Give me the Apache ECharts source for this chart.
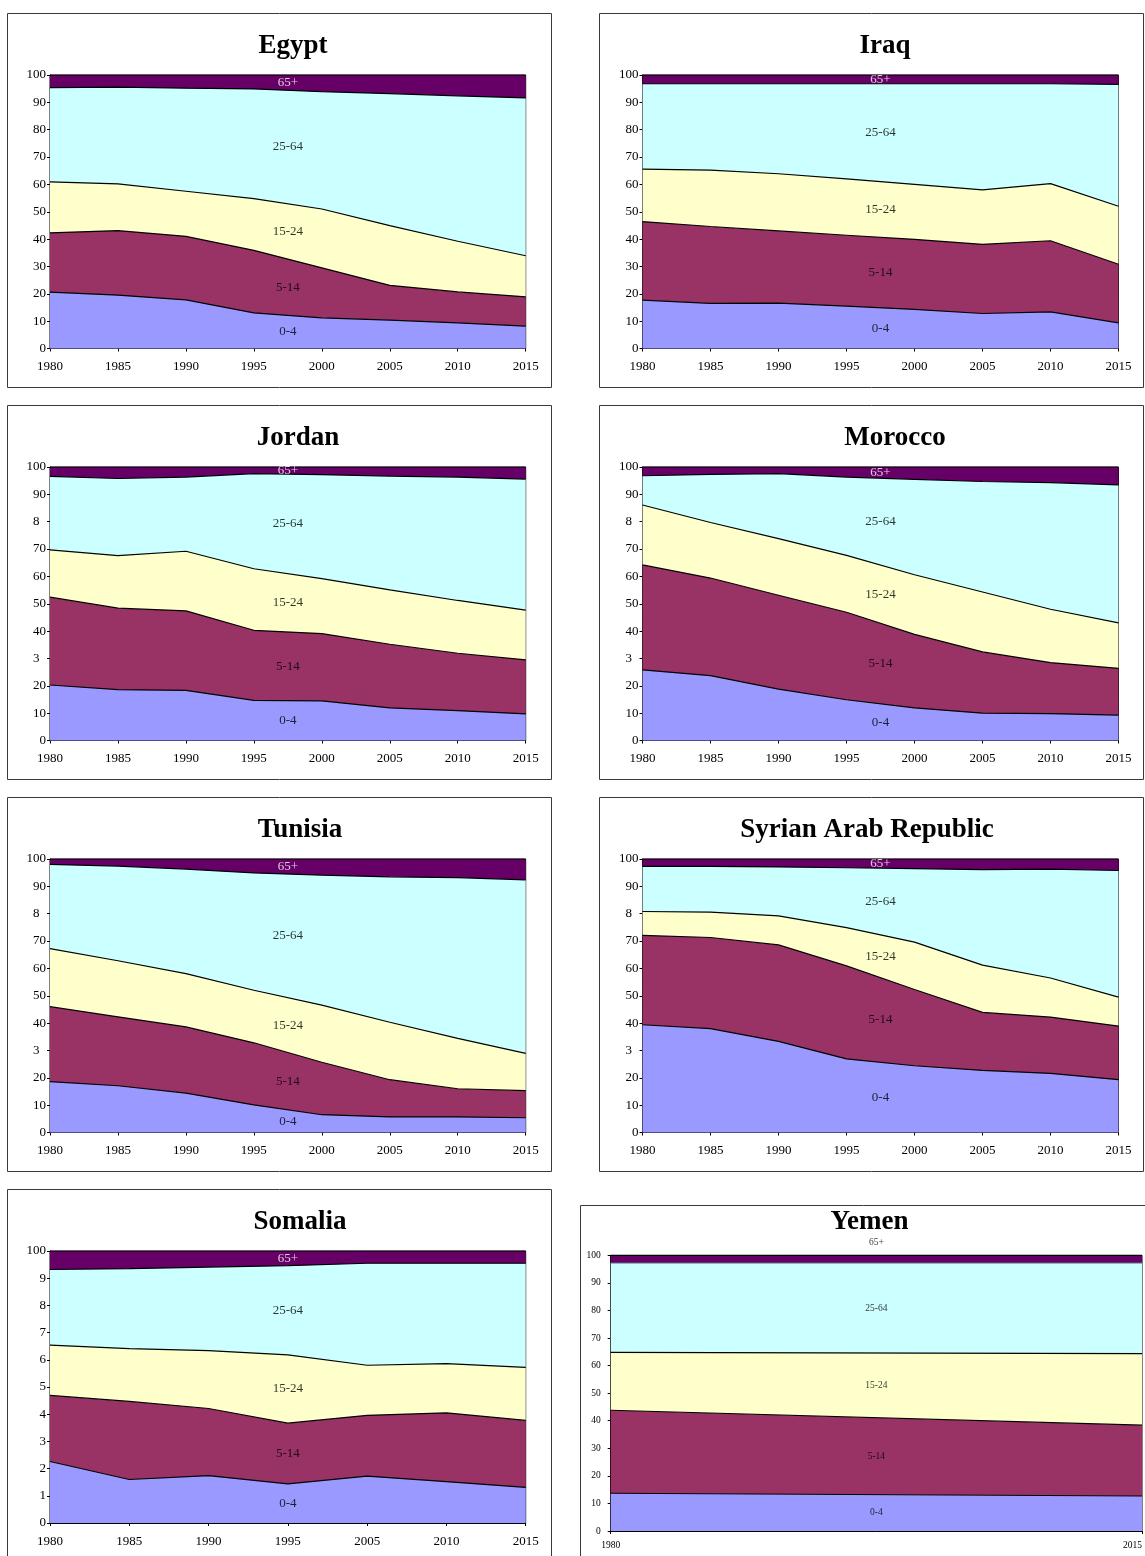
<!DOCTYPE html>
<html><head><meta charset="utf-8">
<script src="https://cdn.jsdelivr.net/npm/echarts/dist/echarts.min.js"></script>
<style>html,body{margin:0;padding:0;background:#fff}#c{width:1145px;height:1556px}</style>
</head><body><div id="c"></div>
<script>
// ---------- categories & tick labels ----------
const years = ['1980','1985','1990','1995','2000','2005','2010','2015'];
const yearsSomalia = ['1980','1985','1990','1995','2005','2010','2015'];
const yearsYemen = ['1980','2015'];
const ageGroups = ['0-4','5-14','15-24','25-64','65+'];
const yTicks = ['0','10','20','30','40','50','60','70','80','90','100'];
const yTicksCut = ['0','10','20','3','40','50','60','70','8','90','100'];
const yTicksSomalia = ['0','1','2','3','4','5','6','7','8','9','100'];

// ---------- data (% share of population by age group) ----------
const egypt_0_4   = [20.6, 19.5, 17.8, 13.0, 11.2, 10.4, 9.4, 8.2];
const egypt_5_14  = [21.7, 23.6, 23.2, 22.9, 18.3, 12.7, 11.3, 10.7];
const egypt_15_24 = [18.6, 17.1, 16.5, 18.9, 21.5, 21.8, 18.5, 15.0];
const egypt_25_64 = [34.5, 35.4, 37.7, 40.1, 42.9, 48.3, 53.2, 57.7];
const egypt_65    = [4.6, 4.4, 4.8, 5.1, 6.1, 6.8, 7.6, 8.4];

const iraq_0_4   = [17.7, 16.5, 16.6, 15.5, 14.3, 12.8, 13.4, 9.4];
const iraq_5_14  = [28.7, 28.1, 26.4, 25.9, 25.6, 25.3, 26.0, 21.4];
const iraq_15_24 = [19.2, 20.6, 20.9, 20.6, 20.1, 19.9, 20.9, 21.2];
const iraq_25_64 = [31.2, 31.6, 32.9, 34.8, 36.8, 38.8, 36.5, 44.6];
const iraq_65    = [3.2, 3.2, 3.2, 3.2, 3.2, 3.2, 3.2, 3.4];

const jordan_0_4   = [20.3, 18.6, 18.3, 14.7, 14.5, 11.9, 10.9, 9.7];
const jordan_5_14  = [32.1, 29.8, 29.1, 25.6, 24.6, 23.3, 21.0, 19.8];
const jordan_15_24 = [17.3, 19.2, 21.8, 22.5, 20.1, 19.9, 19.3, 18.2];
const jordan_25_64 = [26.9, 28.2, 27.1, 34.8, 38.0, 41.6, 45.1, 47.9];
const jordan_65    = [3.4, 4.2, 3.7, 2.4, 2.8, 3.3, 3.7, 4.4];

const morocco_0_4   = [25.8, 23.7, 18.8, 14.9, 11.9, 10.0, 9.8, 9.3];
const morocco_5_14  = [38.4, 35.7, 34.3, 32.0, 26.9, 22.4, 18.7, 17.1];
const morocco_15_24 = [21.9, 20.3, 20.7, 20.8, 21.8, 21.9, 19.5, 16.6];
const morocco_25_64 = [10.7, 17.6, 23.8, 28.6, 34.9, 40.4, 46.3, 50.5];
const morocco_65    = [3.2, 2.7, 2.4, 3.7, 4.5, 5.3, 5.7, 6.5];

const tunisia_0_4   = [18.6, 17.1, 14.4, 10.1, 6.5, 5.7, 5.7, 5.4];
const tunisia_5_14  = [27.4, 25.2, 24.2, 22.7, 19.2, 13.6, 10.3, 9.9];
const tunisia_15_24 = [21.2, 20.5, 19.5, 19.2, 20.9, 21.0, 18.4, 13.6];
const tunisia_25_64 = [30.8, 34.6, 38.2, 42.9, 47.5, 53.2, 58.8, 63.5];
const tunisia_65    = [2.0, 2.6, 3.7, 5.1, 5.9, 6.5, 6.8, 7.6];

const syria_0_4   = [39.4, 38.0, 33.3, 26.9, 24.4, 22.7, 21.6, 19.3];
const syria_5_14  = [32.7, 33.3, 35.3, 34.0, 27.9, 21.2, 20.6, 19.6];
const syria_15_24 = [8.7, 9.3, 10.6, 14.0, 17.3, 17.3, 14.3, 10.6];
const syria_25_64 = [16.5, 16.7, 17.9, 21.9, 26.9, 34.9, 39.8, 46.3];
const syria_65    = [2.7, 2.7, 2.9, 3.2, 3.5, 3.9, 3.7, 4.2];

const somalia_0_4   = [22.6, 16.0, 17.4, 14.4, 17.2, 15.2, 13.1];
const somalia_5_14  = [24.3, 28.7, 24.7, 22.3, 22.4, 25.3, 24.6];
const somalia_15_24 = [18.5, 19.4, 21.3, 25.1, 18.4, 18.1, 19.5];
const somalia_25_64 = [27.8, 29.4, 30.7, 32.8, 37.5, 36.9, 38.3];
const somalia_65    = [6.8, 6.5, 5.9, 5.4, 4.5, 4.5, 4.5];

const yemen_0_4   = [13.7, 12.7];
const yemen_5_14  = [30.1, 25.7];
const yemen_15_24 = [21.0, 25.9];
const yemen_25_64 = [32.3, 32.8];
const yemen_65    = [2.9, 2.9];

// ---------- layout / styles ----------
const colors = ['#9999FF', '#993366', '#FFFFCC', '#CCFFFF', '#660066'];
const FONT = '"Liberation Serif", "Times New Roman", serif';

const panels = [
  {title:'Egypt', cats:years, data:[egypt_0_4,egypt_5_14,egypt_15_24,egypt_25_64,egypt_65], ticks:yTicks, pad:false,
   box:[7.5,13.5,544,374], grid:[50,75,475.7,273.5], tpos:[293,46]},
  {title:'Iraq', cats:years, data:[iraq_0_4,iraq_5_14,iraq_15_24,iraq_25_64,iraq_65], ticks:yTicks, pad:false,
   box:[599.5,13.5,544,374], grid:[642.5,75,476,273.5], tpos:[885,46]},
  {title:'Jordan', cats:years, data:[jordan_0_4,jordan_5_14,jordan_15_24,jordan_25_64,jordan_65], ticks:yTicksCut, pad:true,
   box:[7.5,405.5,544,374], grid:[50,467,475.7,273.5], tpos:[298,438]},
  {title:'Morocco', cats:years, data:[morocco_0_4,morocco_5_14,morocco_15_24,morocco_25_64,morocco_65], ticks:yTicksCut, pad:true,
   box:[599.5,405.5,544,374], grid:[642.5,467,476,273.5], tpos:[895,438]},
  {title:'Tunisia', cats:years, data:[tunisia_0_4,tunisia_5_14,tunisia_15_24,tunisia_25_64,tunisia_65], ticks:yTicksCut, pad:true,
   box:[7.5,797.5,544,374], grid:[50,859,475.7,273.5], tpos:[300,830]},
  {title:'Syrian Arab Republic', cats:years, data:[syria_0_4,syria_5_14,syria_15_24,syria_25_64,syria_65], ticks:yTicksCut, pad:true,
   box:[599.5,797.5,544,374], grid:[642.5,859,476,273.5], tpos:[867,830]},
  {title:'Somalia', cats:yearsSomalia, data:[somalia_0_4,somalia_5_14,somalia_15_24,somalia_25_64,somalia_65], ticks:yTicksSomalia, pad:false,
   box:[7.5,1189.5,544,374], grid:[50,1251,475.7,272], tpos:[300,1222]},
  {title:'Yemen', cats:yearsYemen, data:[yemen_0_4,yemen_5_14,yemen_15_24,yemen_25_64,yemen_65], ticks:yTicks, pad:false,
   box:[580.5,1205.5,600,400], grid:[610.7,1255.3,531.3,275.7], tpos:[869.5,1222.5], small:true}
];

const grids = [], xAxes = [], yAxes = [], series = [], graphics = [];

panels.forEach((p, i) => {
  const fs = p.small ? 9.5 : 13;
  graphics.push({type:'rect', shape:{x:p.box[0], y:p.box[1], width:p.box[2], height:p.box[3]},
    style:{fill:'none', stroke:'#3a3a3a', lineWidth:1}, z:0, silent:true});
  graphics.push({type:'text', x:p.tpos[0], y:p.tpos[1],
    style:{text:p.title, font:'bold 27px ' + FONT, fill:'#000', textAlign:'center', textVerticalAlign:'middle'}, z:10});

  grids.push({left:p.grid[0], top:p.grid[1], width:p.grid[2], height:p.grid[3],
    show:true, borderColor:'#000', borderWidth:1, backgroundColor:'transparent'});

  xAxes.push({type:'category', gridIndex:i, data:p.cats, boundaryGap:false,
    axisLine:{show:true, lineStyle:{color:'#000', width:1}},
    axisTick:{show:true, length:3, interval: p.small ? (idx => idx === 0 || idx === p.cats.length-1) : 0, lineStyle:{color:'#000'}},
    axisLabel:{interval:0, color:'#000', fontFamily:FONT, fontSize:fs, margin: p.small ? 9 : 12,
      alignMaxLabel: p.small ? 'right' : null},
    splitLine:{show:false}});
  xAxes.push({type:'value', gridIndex:i, min:0, max:1, show:false});

  yAxes.push({type:'value', gridIndex:i, min:0, max:100, interval:10,
    axisLine:{show:true, lineStyle:{color:'#000', width:1}},
    axisTick:{show:true, length:3, lineStyle:{color:'#000'}},
    splitLine:{show:false},
    axisLabel:{color:'#000', fontFamily:FONT, fontSize:fs, margin: p.small ? 10 : 4,
      formatter: v => {
        const s = p.ticks[Math.round(v / 10)];
        return (p.pad && s.length === 1 && v !== 0) ? '{p|' + s + '}' : s;
      },
      rich:{p:{fontFamily:FONT, fontSize:fs, color:'#000', padding:[0, fs*0.5, 0, 0]}}}});

  p.data.forEach((arr, k) => {
    series.push({type:'line', name:ageGroups[k], xAxisIndex:2*i, yAxisIndex:i, stack:'s'+i,
      data:arr, symbol:'none', smooth:false,
      lineStyle:{color:(p.small && k===3) ? '#88b8b8' : '#000', width:1.2},
      areaStyle:{color:colors[k], opacity:1}, itemStyle:{color:colors[k]},
      silent:true, animation:false, z:2});
  });

  // series name labels at the centre of the plot, in the middle of each band
  const n = p.cats.length, c = (n - 1) / 2, lo = Math.floor(c), hi = Math.ceil(c);
  let cumLo = 0, cumHi = 0;
  const labelData = p.data.map((arr, k) => {
    const bottom = (cumLo + cumHi) / 2;
    cumLo += arr[lo]; cumHi += arr[hi];
    const top = (cumLo + cumHi) / 2;
    const item = {name:ageGroups[k], value:[0.5, (bottom + top) / 2],
      label:{color: (k === 4 && !p.small) ? '#fff' : '#000'}};
    if (k === 4 && p.small) item.label.offset = [0, -17];
    return item;
  });
  series.push({type:'scatter', xAxisIndex:2*i+1, yAxisIndex:i, data:labelData,
    symbolSize:1, itemStyle:{color:'rgba(0,0,0,0)'}, clip:false, silent:true, animation:false, z:5,
    label:{show:true, position:'inside', formatter: q => q.name, fontFamily:FONT, fontSize: p.small ? 9.5 : 13}});
});

const chart = echarts.init(document.getElementById('c'), null, {renderer:'canvas'});
chart.setOption({
  backgroundColor:'#fff',
  animation:false,
  grid:grids, xAxis:xAxes, yAxis:yAxes, series:series, graphic:graphics
});
</script></body></html>
